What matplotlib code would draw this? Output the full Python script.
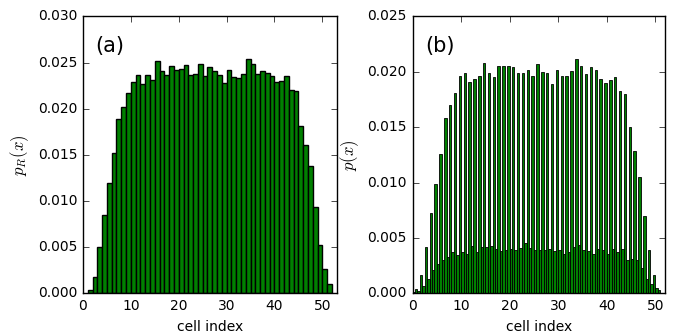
import matplotlib
matplotlib.use("Agg")
import matplotlib.pyplot as plt
from matplotlib.ticker import MultipleLocator
import numpy as np

plt.style.use("classic")
plt.rcParams["figure.facecolor"] = "white"
plt.rcParams["mathtext.fontset"] = "cm"
plt.rcParams["font.size"] = 10

# cell index 1..51
cells = np.arange(1, 52)

# reduced distribution per cell
p_cell = [0.0004, 0.0018, 0.0050, 0.0085, 0.0120, 0.0152, 0.0189, 0.0202, 0.0217, 0.0229,
          0.0237, 0.0227, 0.0237, 0.0231, 0.0252, 0.0241, 0.0237, 0.0246, 0.0242, 0.0243,
          0.0247, 0.0237, 0.0238, 0.0249, 0.0236, 0.0245, 0.0241, 0.0237, 0.0228, 0.0242,
          0.0235, 0.0233, 0.0238, 0.0254, 0.0249, 0.0238, 0.0241, 0.0239, 0.0236, 0.0229,
          0.0230, 0.0236, 0.0220, 0.0219, 0.0181, 0.0161, 0.0138, 0.0094, 0.0053, 0.0027,
          0.0010]

# full distribution: first site of each cell
p_site_a = [0.0001, 0.0002, 0.0007, 0.0013, 0.0021, 0.0027, 0.0030, 0.0033, 0.0037, 0.0035,
            0.0037, 0.0036, 0.0043, 0.0037, 0.0042, 0.0042, 0.0043, 0.0040, 0.0038, 0.0039,
            0.0040, 0.0039, 0.0041, 0.0046, 0.0041, 0.0039, 0.0039, 0.0039, 0.0040, 0.0038,
            0.0039, 0.0036, 0.0037, 0.0042, 0.0044, 0.0039, 0.0038, 0.0036, 0.0040, 0.0039,
            0.0036, 0.0040, 0.0037, 0.0040, 0.0030, 0.0031, 0.0030, 0.0023, 0.0013, 0.0009,
            0.0005]

# second site of each cell
p_site_b = [0.0004, 0.0017, 0.0042, 0.0073, 0.0099, 0.0126, 0.0158, 0.0170, 0.0181, 0.0196,
            0.0199, 0.0191, 0.0194, 0.0196, 0.0208, 0.0199, 0.0195, 0.0205, 0.0205, 0.0205,
            0.0204, 0.0199, 0.0199, 0.0202, 0.0196, 0.0207, 0.0200, 0.0199, 0.0189, 0.0202,
            0.0196, 0.0196, 0.0201, 0.0212, 0.0205, 0.0198, 0.0204, 0.0202, 0.0194, 0.0190,
            0.0193, 0.0195, 0.0183, 0.0180, 0.0150, 0.0129, 0.0105, 0.0070, 0.0039, 0.0017,
            0.0003]

fig = plt.figure(figsize=(6.88, 3.34), dpi=100)
ax1 = fig.add_axes([0.1206, 0.1213, 0.3688, 0.8293])
ax2 = fig.add_axes([0.5996, 0.1213, 0.3670, 0.8293])

ax1.bar(cells, p_cell, width=1.0, align="edge", color="g", edgecolor="k", linewidth=1.0)
ax1.set_xlim(0, 53)
ax1.set_ylim(0, 0.030)
ax1.yaxis.set_major_locator(MultipleLocator(0.005))
ax1.xaxis.set_major_locator(MultipleLocator(10))
ax1.set_xlabel("cell index")
ax1.set_ylabel(r"$p_R(x)$", fontsize=12)
ax1.text(0.05, 0.93, "(a)", transform=ax1.transAxes, fontsize=15, va="top")

ax2.bar(cells - 1.0, p_site_a, width=0.5, align="edge", color="g", edgecolor="k", linewidth=0.6)
ax2.bar(cells - 0.5, p_site_b, width=0.5, align="edge", color="g", edgecolor="k", linewidth=0.6)
ax2.set_xlim(0, 52)
ax2.set_ylim(0, 0.025)
ax2.yaxis.set_major_locator(MultipleLocator(0.005))
ax2.xaxis.set_major_locator(MultipleLocator(10))
ax2.set_xlabel("cell index")
ax2.set_ylabel(r"$p(x)$", fontsize=12)
ax2.text(0.05, 0.93, "(b)", transform=ax2.transAxes, fontsize=15, va="top")

fig.savefig("out.png", dpi=100)
